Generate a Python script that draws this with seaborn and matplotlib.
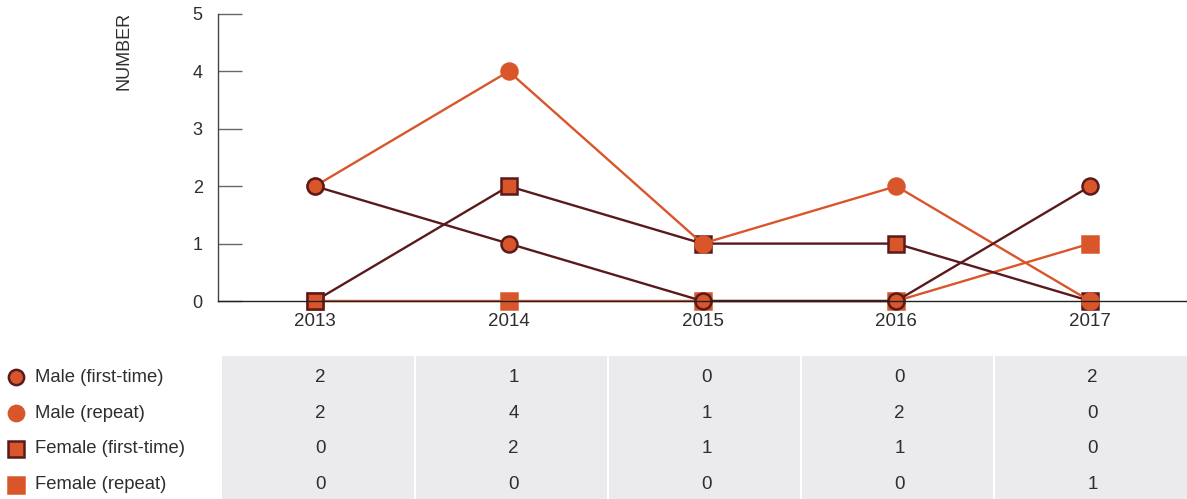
import matplotlib
matplotlib.use("Agg")
import matplotlib.pyplot as plt
import matplotlib.transforms as mtransforms
import seaborn as sns
import pandas as pd

years = [2013, 2014, 2015, 2016, 2017]
series_names = ["Male (first-time)", "Male (repeat)", "Female (first-time)", "Female (repeat)"]
male_first = [2, 1, 0, 0, 2]
male_repeat = [2, 4, 1, 2, 0]
female_first = [0, 2, 1, 1, 0]
female_repeat = [0, 0, 0, 0, 1]
y_ticks = [0, 1, 2, 3, 4, 5]

MAROON = "#5a1a1c"
ORANGE = "#d9562a"
TEXT = "#2e2e2e"
GRAY_CELL = "#ebebed"

values = {
    "Male (first-time)": male_first,
    "Male (repeat)": male_repeat,
    "Female (first-time)": female_first,
    "Female (repeat)": female_repeat,
}
styles = {
    "Male (first-time)": dict(line=MAROON, marker="o", edge=MAROON),
    "Male (repeat)": dict(line=ORANGE, marker="o", edge=ORANGE),
    "Female (first-time)": dict(line=MAROON, marker="s", edge=MAROON),
    "Female (repeat)": dict(line=ORANGE, marker="s", edge=ORANGE),
}

df = pd.DataFrame([
    {"year": y, "series": s, "value": v}
    for s in series_names for y, v in zip(years, values[s])
])

sns.set_theme(style="white")
plt.rcParams["font.family"] = ["Liberation Sans", "DejaVu Sans"]

W, H = 1187, 499
fig = plt.figure(figsize=(W / 100, H / 100), dpi=100)

def fx(px):
    return px / W

def fy(py):
    return 1 - py / H

# main chart axes
ax = fig.add_axes([fx(218), fy(301), fx(1187) - fx(218), fy(14) - fy(301)])
for s in reversed(series_names):
    st = styles[s]
    sub = df[df["series"] == s]
    sns.lineplot(data=sub, x="year", y="value", ax=ax, color=st["line"],
                 marker=st["marker"], markersize=11.5, markerfacecolor=ORANGE,
                 markeredgecolor=st["edge"], markeredgewidth=1.8,
                 linewidth=1.7, legend=False, clip_on=False)

ax.set_xlim(2012.5, 2017.5)
ax.set_ylim(0, 5)
ax.set_xticks(years)
ax.set_xticklabels([str(y) for y in years])
ax.set_yticks(y_ticks)
ax.set_xlabel("")
ax.set_ylabel("")
for side in ["top", "right"]:
    ax.spines[side].set_visible(False)
ax.spines["left"].set_color("#444444")
ax.spines["left"].set_linewidth(1.0)
ax.spines["bottom"].set_color("#222222")
ax.spines["bottom"].set_linewidth(1.0)
ax.tick_params(axis="y", direction="in", length=17, width=1.0, color="#666666",
               pad=11, labelsize=13, labelcolor=TEXT, left=True)
ax.tick_params(axis="x", length=0, pad=9, labelsize=13.5, labelcolor=TEXT)
ax.grid(False)
ax.set_facecolor("white")

fig.text(fx(124), fy(51), "NUMBER", rotation=90, ha="center", va="center",
         fontsize=13, color=TEXT)

# table axes
tax = fig.add_axes([fx(222), fy(499), fx(1187) - fx(222), fy(356) - fy(499)])
tax.set_xlim(0, 5)
tax.set_ylim(4, 0)
tax.axis("off")
gap = 1.0 / 193
for i in range(len(years)):
    left = i + (gap if i > 0 else 0)
    right = i + 1 - (gap if i < len(years) - 1 else 0)
    tax.axvspan(left, right, color=GRAY_CELL, lw=0, zorder=0)
for r, s in enumerate(series_names):
    for c, v in enumerate(values[s]):
        tax.text(c + 0.51, r + 0.6, str(v), ha="center", va="center",
                 fontsize=13.5, color=TEXT)

# legend to the left of the table
trans = mtransforms.blended_transform_factory(fig.transFigure, tax.transData)
for r, s in enumerate(series_names):
    st = styles[s]
    tax.plot([fx(16)], [r + 0.6], transform=trans, marker=st["marker"],
             markersize=11, markerfacecolor=ORANGE, markeredgecolor=st["edge"],
             markeredgewidth=1.8, linestyle="none", clip_on=False)
    tax.text(fx(35), r + 0.6, s, transform=trans, ha="left", va="center",
             fontsize=13.3, color=TEXT)

fig.savefig("out.png", dpi=100)
